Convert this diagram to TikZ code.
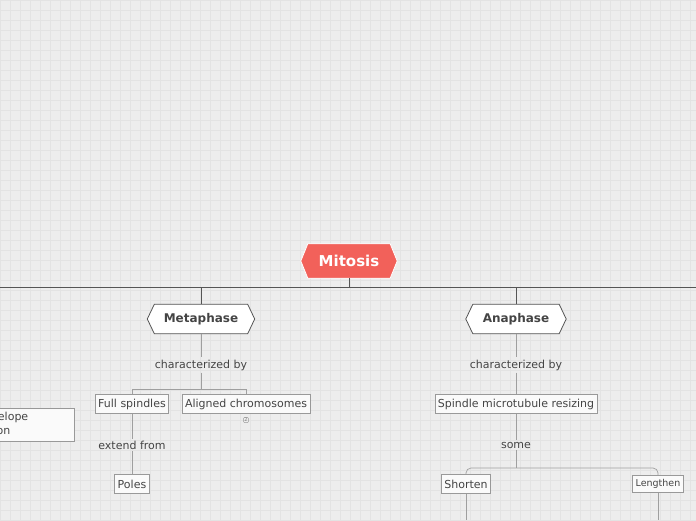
\documentclass[tikz,border=0pt]{standalone}
\usepackage{fontspec}
\setmainfont{DejaVu Sans}
\definecolor{bgcol}{HTML}{EDEDED}
\definecolor{gridcol}{HTML}{E3E3E3}
\definecolor{txtcol}{HTML}{444444}
\definecolor{rootred}{HTML}{F2615A}
\definecolor{edgecol}{HTML}{555555}
\tikzset{
  topic/.style={draw=gray!80,fill=white!96!gray,line width=0.6pt,font=\fontsize{11}{13.5}\selectfont,
    text=txtcol,inner sep=3pt,minimum height=19pt},
  linklabel/.style={font=\fontsize{11}{13.5}\selectfont,text=txtcol,inner sep=2pt},
  hexa/.style={font=\bfseries\fontsize{12}{14}\selectfont,text=txtcol,minimum height=29pt},
  trunk/.style={draw=edgecol,line width=0.9pt},
  twig/.style={draw=gray!75,line width=0.7pt}
}
\newcommand{\hexframe}[3]{% node, fill, draw
  \draw[fill=#2,draw=#3,line width=0.8pt]
    (#1.west) -- ([xshift=7pt]#1.north west) -- ([xshift=-7pt]#1.north east)
    -- (#1.east) -- ([xshift=-7pt]#1.south east) -- ([xshift=7pt]#1.south west) -- cycle;}
\begin{document}
\begin{tikzpicture}[x=1pt,y=-1pt]
  \useasboundingbox (0,0) rectangle (696,520);
  \fill[bgcol] (0,0) rectangle (696,520);
  \draw[gridcol,step=10pt] (0,0) grid (696,520);

  % main topic
  \node[minimum width=96pt,minimum height=34pt] (mitosis) at (349,261) {};
  \hexframe{mitosis}{rootred}{white}
  \node[text=white,font=\bfseries\fontsize{15}{17}\selectfont] at (mitosis) {Mitosis};

  \coordinate (bar) at (349,287);
  \draw[trunk] (0,287) -- (696,287);
  \draw[trunk] (mitosis.south) -- (bar);

  % phases
  \node[hexa,minimum width=107pt] (meta) at (201,319) {};
  \hexframe{meta}{white}{edgecol}
  \node[hexa] at (meta) {Metaphase};
  \node[hexa,minimum width=100pt] (ana) at (516,319) {};
  \hexframe{ana}{white}{edgecol}
  \node[hexa] at (ana) {Anaphase};
  \draw[trunk] (meta.north) -- (201,287);
  \draw[trunk] (ana.north) -- (516,287);

  % metaphase branch
  \node[linklabel] (mchar) at (201,365) {characterized by};
  \node[topic] (spind) at (132,404) {Full spindles};
  \node[topic] (align) at (246,404) {Aligned chromosomes};
  \node[draw=gray!80,rounded corners=1pt,inner sep=0.8pt,font=\fontsize{5}{6}\selectfont,text=gray] (badge) at (246,420) {2};
  \node[linklabel] (extend) at (132,445) {extend from};
  \node[topic] (poles) at (132,484) {Poles};
  \draw[twig] (meta.south) -- (mchar.north);
  \draw[twig] (mchar.south) -- (201,389);
  \draw[twig] (spind.north) -- (132,389) -- (246,389) -- (align.north);
  \draw[twig] (spind.south) -- (extend.north);
  \draw[twig] (extend.south) -- (poles.north);

  % left topic (cut off)
  \node[topic,align=left,text width=140pt,anchor=east,minimum height=33pt] (envel) at (75,424.5) {Nuclear envelope\\fragmentation};

  % anaphase branch
  \node[linklabel] (achar) at (516,365) {characterized by};
  \node[topic] (resize) at (516,404) {Spindle microtubule resizing};
  \node[linklabel] (some) at (516,445) {some};
  \node[topic] (short) at (466,484) {Shorten};
  \node[topic,font=\fontsize{9.5}{11}\selectfont,minimum height=17pt] (long) at (658,484) {Lengthen};
  \draw[twig] (ana.south) -- (achar.north);
  \draw[twig] (achar.south) -- (resize.north);
  \draw[twig] (resize.south) -- (some.north);
  \draw[twig] (some.south) -- (516,468);
  \draw[twig,rounded corners=5pt] (short.north) -- (466,468) -- (658,468) -- (long.north);
  \draw[twig] (short.south) -- (466,520);
  \draw[twig] (long.south) -- (658,520);
\end{tikzpicture}
\end{document}
